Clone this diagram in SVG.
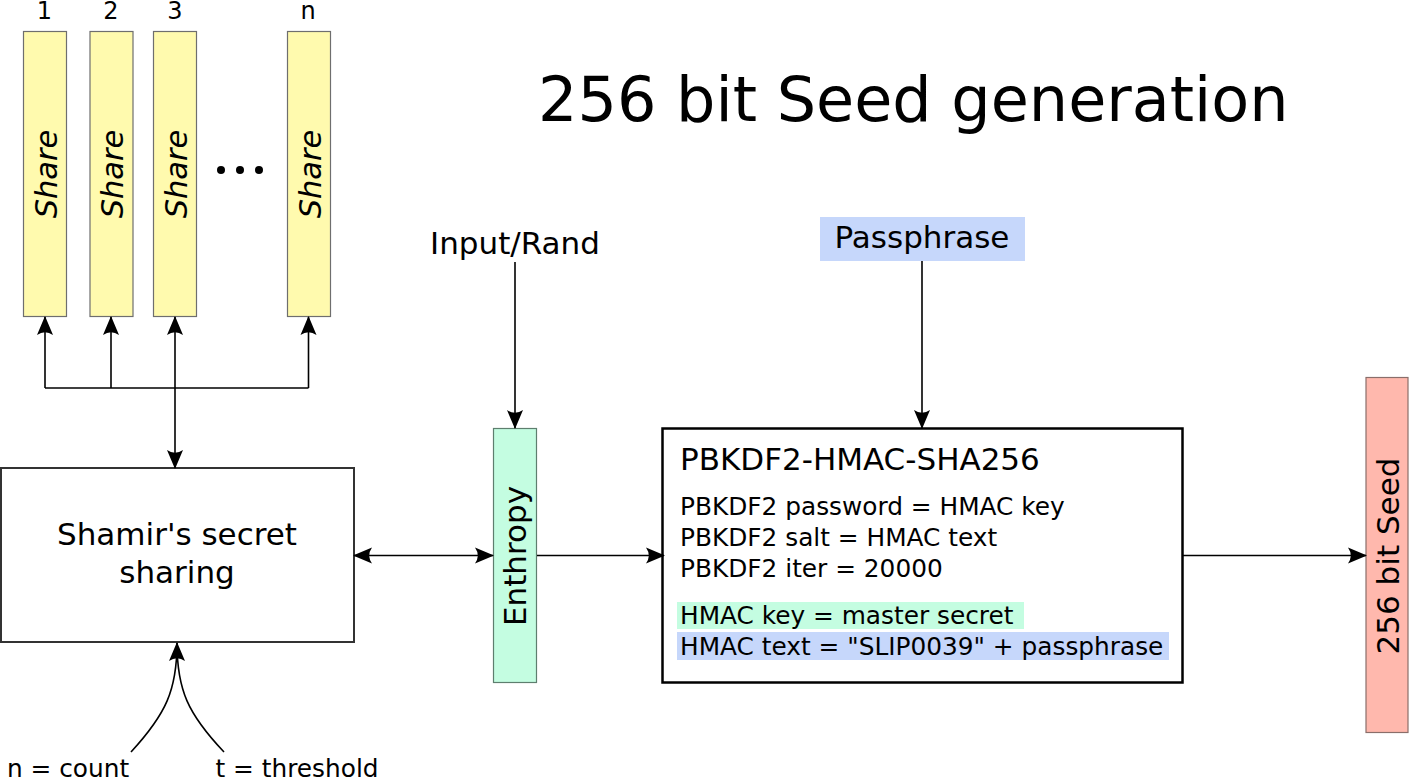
<svg xmlns="http://www.w3.org/2000/svg" width="1409" height="780" viewBox="0 0 1409 780">
<defs>
<marker id="ah" markerUnits="userSpaceOnUse" markerWidth="24" markerHeight="24" refX="0" refY="0" orient="auto-start-reverse" overflow="visible">
<path d="M1,0 L-18,-8 Q-12.5,0 -18,8 Z" fill="#000"/>
</marker>
</defs>
<style>
text{font-family:"DejaVu Sans","Liberation Sans",sans-serif;fill:#000}
.share{fill:#fffaae;stroke:#6e6e6e;stroke-width:1.2}
.share-t{font-size:30.5px;font-style:italic;text-anchor:middle}
.num{font-size:24px;text-anchor:middle}
.conn{fill:none;stroke:#000;stroke-width:1.6}
.big{font-size:31px}
.mid{font-size:24.8px}
</style>
<rect width="1409" height="780" fill="#fff"/>

<text x="538" y="121" font-size="62">256 bit Seed generation</text>

<g id="share1">
<text class="num" x="44.5" y="18.5">1</text>
<rect class="share" x="23.5" y="31.5" width="43" height="285"/>
<text class="share-t" transform="translate(45,174) rotate(-90)" y="11.5">Share</text>
</g>
<g id="share2">
<text class="num" x="111" y="18.5">2</text>
<rect class="share" x="90" y="31.5" width="43" height="285"/>
<text class="share-t" transform="translate(111.5,174) rotate(-90)" y="11.5">Share</text>
</g>
<g id="share3">
<text class="num" x="175" y="18.5">3</text>
<rect class="share" x="153.5" y="31.5" width="43" height="285"/>
<text class="share-t" transform="translate(175,174) rotate(-90)" y="11.5">Share</text>
</g>
<g id="dots">
<circle cx="221" cy="170" r="4"/>
<circle cx="240" cy="170" r="4"/>
<circle cx="259" cy="170" r="4"/>
</g>
<g id="sharen">
<text class="num" x="308" y="18.5">n</text>
<rect class="share" x="287.5" y="31.5" width="43" height="285"/>
<text class="share-t" transform="translate(309,174) rotate(-90)" y="11.5">Share</text>
</g>

<g id="shamir">
<rect x="1" y="468" width="353" height="174" fill="#fff" stroke="#333" stroke-width="2"/>
<text class="big" x="177" y="545" text-anchor="middle">Shamir's secret</text>
<text class="big" x="177" y="583" text-anchor="middle">sharing</text>
</g>

<g id="inputrand">
<text class="big" x="515" y="254" text-anchor="middle">Input/Rand</text>
</g>

<g id="entropy">
<rect x="493.5" y="428.5" width="43" height="254" fill="#c4fde1" stroke="#5e7e6e" stroke-width="1.2"/>
<text class="big" transform="translate(515,556) rotate(-90)" y="11" text-anchor="middle">Enthropy</text>
</g>

<g id="passphrase">
<rect x="820" y="217" width="205" height="44" fill="#c6d7fb"/>
<text class="big" x="922" y="248" text-anchor="middle">Passphrase</text>
</g>

<g id="pbkdf2">
<rect x="662.5" y="428.5" width="520" height="254" fill="#fff" stroke="#000" stroke-width="2.5"/>
<text class="big" x="680" y="470">PBKDF2-HMAC-SHA256</text>
<text class="mid" x="680" y="515">PBKDF2 password = HMAC key</text>
<text class="mid" x="680" y="546">PBKDF2 salt = HMAC text</text>
<text class="mid" x="680" y="577">PBKDF2 iter = 20000</text>
<rect x="677" y="602" width="347" height="27" fill="#c4fde1"/>
<rect x="677" y="632" width="492" height="28" fill="#c6d7fb"/>
<text class="mid" x="680" y="624">HMAC key = master secret</text>
<text class="mid" x="680" y="655">HMAC text = "SLIP0039" + passphrase</text>
</g>

<g id="seed">
<rect x="1366" y="377.5" width="42" height="355" fill="#ffb8ad" stroke="#8a6e6a" stroke-width="1.2"/>
<text class="big" transform="translate(1387,556) rotate(-90)" y="12" text-anchor="middle">256 bit Seed</text>
</g>

<g id="params">
<text class="mid" x="68" y="777" text-anchor="middle">n = count</text>
<text class="mid" x="297" y="777" text-anchor="middle">t = threshold</text>
</g>

<g id="connectors">
<path class="conn" d="M45,388 H308.5"/>
<path class="conn" d="M45,388 V317" marker-end="url(#ah)"/>
<path class="conn" d="M111,388 V317" marker-end="url(#ah)"/>
<path class="conn" d="M308.5,388 V317" marker-end="url(#ah)"/>
<path class="conn" d="M175,317 V468" marker-start="url(#ah)" marker-end="url(#ah)"/>
<path class="conn" d="M354,555.5 H493" marker-start="url(#ah)" marker-end="url(#ah)"/>
<path class="conn" d="M515,262 V428" marker-end="url(#ah)"/>
<path class="conn" d="M537,555.5 H664" marker-end="url(#ah)"/>
<path class="conn" d="M922,261 V428" marker-end="url(#ah)"/>
<path class="conn" d="M1183,555.5 H1366" marker-end="url(#ah)"/>
<path class="conn" d="M131,752 C166,714 177,690 177,643" marker-end="url(#ah)"/>
<path class="conn" d="M224,752 C188,714 177,690 177,643"/>
</g>
</svg>
